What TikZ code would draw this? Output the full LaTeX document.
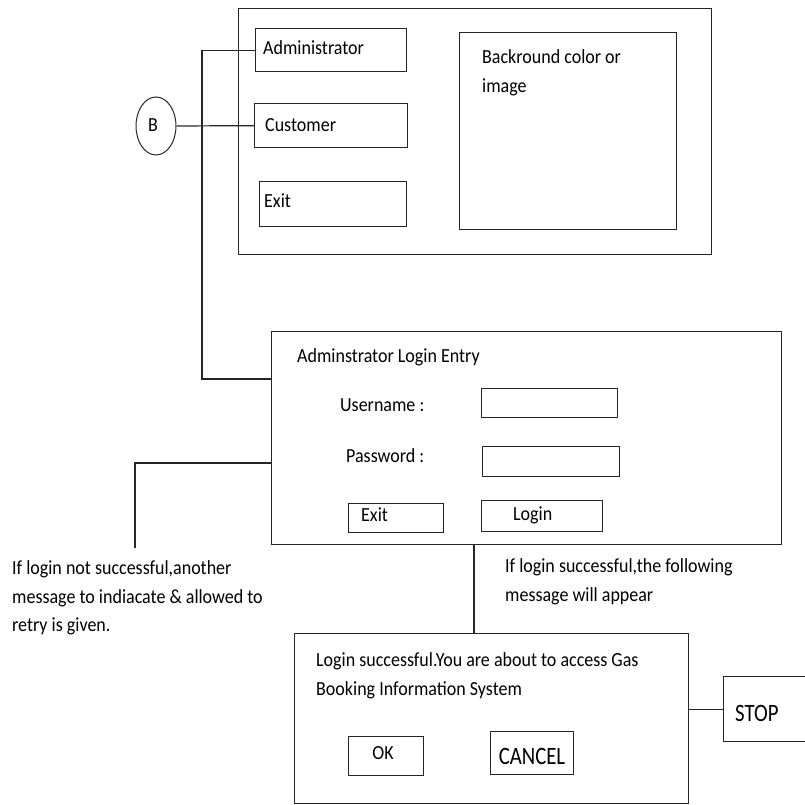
\documentclass[tikz,border=0pt]{standalone}
\usepackage{fontspec}
\setmainfont{Carlito}
\usetikzlibrary{shapes.geometric}

\tikzset{
  frame/.style={draw=black!85, line width=1.3pt, inner sep=0pt, anchor=north west},
  wire/.style={draw=black!85, line width=1.2pt},
  lbl/.style={font=\fontsize{20}{28.5}\selectfont, xscale=0.9, inner sep=0pt, align=left, anchor=west},
  biglbl/.style={font=\fontsize{25}{30}\selectfont, xscale=0.83, inner sep=0pt}
}

\begin{document}
\begin{tikzpicture}[x=1pt, y=-1pt]
    \useasboundingbox (0,0) rectangle (805,805);

    % Main menu window
    \node[frame, minimum width=473, minimum height=246] (mainwin) at (238,8) {};
    \node[frame, minimum width=151, minimum height=43] (admin) at (255,28) {};
    \node[frame, minimum width=153, minimum height=44] (cust) at (254,103) {};
    \node[frame, minimum width=147, minimum height=45] (quit) at (259,181) {};
    \node[frame, minimum width=217, minimum height=197] (bg) at (459,32) {};
    \node[lbl] (adminT) at (263,48) {Administrator};
    \node[lbl] (custT) at (265,125) {Customer};
    \node[lbl] (quitT) at (264,201) {Exit};
    \node[lbl] (bgT) at (482,73) {Backround color or\\image};

    % Connector B
    \node[draw=black!85, line width=1pt, ellipse, minimum width=40, minimum height=58, inner sep=0pt] (B) at (156,126) {};
    \node[lbl, anchor=center] (BT) at (153,125) {B};

    % Administrator login window
    \node[frame, minimum width=510, minimum height=213] (login) at (271,331) {};
    \node[lbl] (loginT) at (297,357) {Adminstrator Login Entry};
    \node[lbl] (userT) at (340,405) {Username :};
    \node[lbl] (passT) at (346,456) {Password :};
    \node[frame, minimum width=136, minimum height=29] (userF) at (481,388) {};
    \node[frame, minimum width=137, minimum height=30] (passF) at (482,446) {};
    \node[frame, minimum width=95, minimum height=29] (exitB) at (348,503) {};
    \node[frame, minimum width=121, minimum height=31] (loginB) at (481,500) {};
    \node[lbl] (exitBT) at (361,515) {Exit};
    \node[lbl] (loginBT) at (513,515) {Login};

    % Notes
    \node[lbl] (failT) at (12,598) {If login not successful,another\\message to indiacate \& allowed to\\retry is given.};
    \node[lbl] (okT) at (505,582) {If login successful,the following\\message will appear};

    % Success message window
    \node[frame, minimum width=394, minimum height=170] (success) at (294,633) {};
    \node[lbl] (successT) at (316,676) {Login successful.You are about to access Gas\\Booking Information System};
    \node[frame, minimum width=75, minimum height=39] (okB) at (348,736) {};
    \node[frame, minimum width=83, minimum height=43] (cancelB) at (490,731) {};
    \node[lbl, anchor=center] (okBT) at (383,753) {OK};
    \node[biglbl] (cancelBT) at (532,756) {CANCEL};

    % Stop
    \node[frame, minimum width=110, minimum height=65] (stop) at (723,676) {};
    \node[biglbl, anchor=west] (stopT) at (735,713) {STOP};

    % Connectors
    \coordinate (j1) at (202,379);
    \coordinate (j2) at (135,463);
    \coordinate (j3) at (135,548);
    \coordinate (j4) at (474,544);
    \draw[wire] (B.east) -- (cust.west);
    \draw[wire] (admin.west) -| (j1) -- (j1 -| login.west);
    \draw[wire] (j2 -| login.west) -- (j2) -- (j3);
    \draw[wire] (j4) -- (j4 |- success.north);
    \draw[wire] (stop.west) -- (stop.west -| success.east);
\end{tikzpicture}
\end{document}
